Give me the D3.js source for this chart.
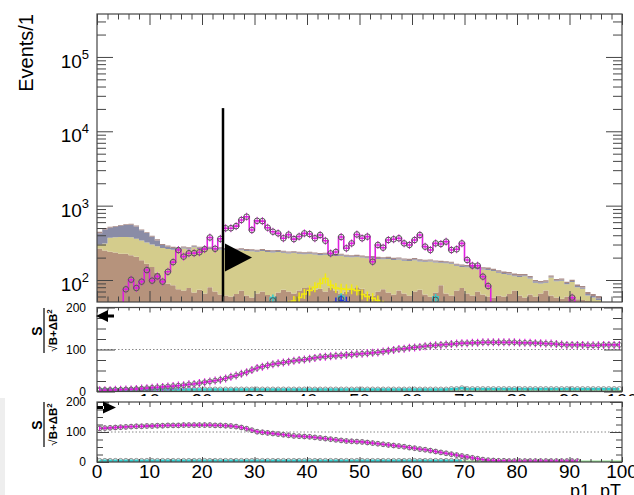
<!DOCTYPE html>
<html><head><meta charset="utf-8">
<script src="https://cdn.jsdelivr.net/npm/d3@7"></script>
<style>body{margin:0;background:#fff}svg{display:block}text{font-family:"Liberation Sans",Arial,Helvetica,sans-serif;fill:#000}</style>
</head><body><svg id="c" width="634" height="495"></svg>
<script>
// ---------------- data ----------------
const xTicksMajor = [0,10,20,30,40,50,60,70,80,90,100];
const yMainTickLabels = [{v:1e2,e:"2"},{v:1e3,e:"3"},{v:1e4,e:"4"},{v:1e5,e:"5"}];
const ratioTickLabels = [0,100,200];
// stacked backgrounds, bins 0..95 (bin width 1)
const bkgBrown = [265,250,240,235,225,225,215,205,185,165,150,125,100,90,85,75,72,78,68,74,66,80,70,64,62,60,65,72,62,58,66,70,63,60,68,74,70,66,72,78,80,74,76,70,78,72,65,70,74,80,76,66,62,70,75,68,64,72,66,62,70,74,64,60,68,85,66,62,72,78,66,62,70,64,60,58,62,60,65,72,62,58,64,60,66,72,62,58,56,60,58,55,54,52,50,48];
const bkgKhaki = [35,60,130,140,155,155,160,155,155,155,150,160,170,172,170,175,193,180,207,188,192,182,185,194,190,190,183,180,184,186,174,175,175,175,170,158,158,164,154,144,145,146,140,148,136,138,147,136,129,125,124,130,136,122,115,124,122,116,116,118,114,104,112,118,104,85,102,103,83,72,82,83,70,74,76,74,63,60,53,40,48,54,41,32,24,20,46,38,42,28,36,25,22,10,8,6];
const bkgSlate = [126,167,136,144,155,168,180,166,126,108,83,55,26,19,15,10,9,9,9,9,9,9,9,9,9,8,8,8,8,8,8,8,8,8,8,8,7,7,7,7,7,7,7,7,7,7,7,6,6,6,6,6,6,6,6,6,6,6,6,6,6,6,5,5,5,5,5,5,5,5,5,5,5,5,5,4,4,4,4,4,4,4,4,4,3,3,3,3,3,3,3,3,3,3,3,3];
const bkgRose = [20,22,15,15,15,15,15,15,12,12,12,12,10,10,10,10,8,8,8,8,8,8,8,8,8,8,8,8,8,8,8,8,8,8,8,8,7,7,7,7,7,7,7,7,7,7,7,7,7,7,7,7,7,7,7,7,7,7,7,7,7,6,6,6,6,6,6,6,6,6,6,6,6,6,6,6,6,6,6,6,6,4,4,4,4,4,4,4,4,4,4,4,4,4,4,4];
// signal (magenta), bins 0..99
const sigMain = [0,0,0,0,0,75,101,78,95,136,98,112,95,129,174,253,206,229,230,236,260,373,263,358,497,497,530,642,710,470,625,620,505,446,424,364,408,355,384,424,415,364,403,337,228,238,379,267,311,410,364,383,176,296,272,345,353,364,311,296,345,403,281,253,311,305,328,253,259,311,186,156,156,111,83,0,0,0,0,0,0,0,0,0,0,0,0,0,0,0,58,0,0,0,0,0,0,0,0,0];
// second signal (yellow), bins 0..99
const sigYellow = [0,0,0,0,0,0,0,0,0,0,0,0,0,0,0,0,0,0,0,0,0,0,0,0,0,0,0,0,0,0,0,0,0,0,0,0,45,52,58,65,72,80,90,105,85,78,76,75,75,72,64,60,57,53,45,0,0,0,0,0,0,0,0,0,0,0,0,0,0,0,0,0,0,0,0,0,0,0,0,0,0,0,0,0,0,0,0,0,0,0,0,0,0,0,0,0,0,0,0,0];
const cyanBins = [33,46,64], cyanVals = [53,55,54];
const blueBins = [45,46,47], blueVals = [50,53,51];
const cutValue = 24, cutTop = 2.05e4;
// significance, pad 1 (cut x > value), bin centres 0.5..99.5
const sig1 = [3,3,3,4,4,5,5,6,7,8,9,10,11,12,13,14,15,17,18,20,22,24,26,28,31,35,38,42,46,51,56,59,62,65,67,69,71,73,75,76,78,80,82,83,84,85,86,87,88,89,90,91,92,93,95,97,99,101,102,104,105,106,108,109,110,111,112,113,114,115,115,116,116,117,117,117,117,117,117,117,116,116,116,115,115,114,114,113,112,111,111,111,111,110,110,110,111,111,111,111];
const cyan1 = [4,4,4,4,4,4,5,5,5,5,5,5,5,5,5,5,5,5,5,5,5,5,5,5,5,5,5,5,5,5,5,5,5,5,5,5,5,5,5,5,5,5,5,5,5,5,5,5,5,5,5,5,5,5,5,5,5,5,5,5,5,5,5,5,5,5,5,6,6,8,6,6,6,6,6,6,6,6,6,6,6,6,6,6,6,6,6,6,6,6,6,6,6,6,6,6,6,6,6,6];
// significance, pad 2 (cut x < value)
const sig2 = [112,113,114,115,116,117,118,119,119,120,120,121,121,122,122,122,123,123,123,123,123,123,122,122,121,120,118,115,111,106,101,99,97,95,93,91,89,87,86,85,84,82,80,78,76,74,72,70,69,68,67,65,63,61,59,57,55,53,51,48,46,43,41,38,35,32,29,26,23,20,17,14,11,8,6,5,4,4,3,3,3,3,3,3,3,3,3,3,3,3,3,3];
const cyan2 = [4,4,4,4,4,4,4,4,4,4,4,4,4,4,4,4,4,4,4,4,4,4,4,4,4,4,4,4,4,4,4,4,4,4,4,4,4,4,4,4,4,4,4,4,4,4,4,4,4,4,4,4,4,4,4,4,4,4,4,4,4,4,4,4,4,4,4,4,4,4];

// ---------------- styles ----------------
const C = {brown:"#b6937c", khaki:"#d4cc8c", slate:"#8a8ca6", rose:"#a88a86",
  mag:"#e020e0", cyan:"#30d0d0", green:"#90e090", axis:"#444"};

const svg = d3.select("#c");
const X0 = 97, X1 = 622;
const x = d3.scaleLinear().domain([0,100]).range([X0,X1]);
const yM = d3.scaleLog().domain([50.6,3.78e5]).range([302,14]);
const y1 = d3.scaleLinear().domain([0,200]).range([391.5,307.5]);
const y2 = d3.scaleLinear().domain([0,200]).range([462,402]);

const defs = svg.append("defs");
function clip(id, y0, y1_) {
  defs.append("clipPath").attr("id", id).append("rect")
    .attr("x", X0).attr("y", y0).attr("width", X1 - X0).attr("height", y1_ - y0);
}
clip("cm", 14, 302); clip("c1", 307.5, 391.5); clip("c2", 402, 462);

// ---------------- main pad ----------------
const gm = svg.append("g").attr("clip-path", "url(#cm)");
const rows = bkgBrown.map((b, k) => ({k, brown: b, khaki: bkgKhaki[k], slate: bkgSlate[k], rose: bkgRose[k]}));
const stacked = d3.stack().keys(["brown","khaki","slate","rose"])(rows);
const area = d3.area().x(d => x(d.x)).y0(d => yM(Math.max(d.y0, 1))).y1(d => yM(Math.max(d.y1, 1)));
stacked.forEach(s => {
  const pts = s.flatMap(d => [{x: d.data.k, y0: d[0], y1: d[1]}, {x: d.data.k + 1, y0: d[0], y1: d[1]}]);
  gm.append("path").attr("d", area(pts)).attr("fill", C[s.key]).attr("stroke", "none");
});

function stepLine(vals) {
  const pts = vals.flatMap((v, k) => [[k, Math.max(v, 1)], [k + 1, Math.max(v, 1)]]);
  return d3.line().x(d => x(d[0])).y(d => yM(d[1]))(pts);
}
// yellow signal
gm.append("path").attr("d", stepLine(sigYellow)).attr("fill", "none").attr("stroke", "#f2ea10").attr("stroke-width", 1.5);
sigYellow.forEach((v, k) => { if (v > 0) {
  gm.append("line").attr("x1", x(k + .5)).attr("x2", x(k + .5)).attr("y1", yM(v) - 5).attr("y2", yM(v) + 5)
    .attr("stroke", "#f2ea10").attr("stroke-width", 1.5);
}});
// cyan & blue markers
cyanBins.forEach((k, i) => {
  const cx = x(k + .5), cy = yM(cyanVals[i]);
  gm.append("line").attr("x1", cx).attr("x2", cx).attr("y1", cy - 6).attr("y2", cy + 6).attr("stroke", C.cyan).attr("stroke-width", 1.5);
  gm.append("rect").attr("x", x(k)).attr("y", cy - 3).attr("width", x(k + 1) - x(k)).attr("height", 20).attr("fill", "none").attr("stroke", C.cyan).attr("stroke-width", 1.5);
  gm.append("circle").attr("cx", cx).attr("cy", cy).attr("r", 2.8).attr("fill", "none").attr("stroke", "#555");
});
blueBins.forEach((k, i) => {
  const cx = x(k + .5), cy = yM(blueVals[i]);
  gm.append("line").attr("x1", x(k)).attr("x2", x(k + 1)).attr("y1", cy).attr("y2", cy).attr("stroke", "#2030e0").attr("stroke-width", 1.5);
  gm.append("line").attr("x1", cx).attr("x2", cx).attr("y1", cy - 5).attr("y2", cy + 5).attr("stroke", "#2030e0").attr("stroke-width", 1.5);
});
// magenta signal
gm.append("path").attr("d", stepLine(sigMain)).attr("fill", "none").attr("stroke", C.mag).attr("stroke-width", 1.6);
sigMain.forEach((v, k) => { if (v > 0) {
  const cx = x(k + .5), cy = yM(v);
  gm.append("line").attr("x1", cx).attr("x2", cx).attr("y1", cy - 4).attr("y2", cy + 4).attr("stroke", C.mag).attr("stroke-width", 1);
  gm.append("circle").attr("cx", cx).attr("cy", cy).attr("r", 2.8).attr("fill", "none").attr("stroke", "#555").attr("stroke-width", 1);
}});
// cut line + arrow
svg.append("line").attr("x1", x(cutValue)).attr("x2", x(cutValue)).attr("y1", yM(cutTop)).attr("y2", 302)
  .attr("stroke", "#000").attr("stroke-width", 2.5);
{
  const ax = x(cutValue) + 2, ay = yM(200);
  svg.append("path").attr("d", `M${ax},${ay - 14}L${ax + 27},${ay}L${ax},${ay + 14}Z`).attr("fill", "#000");
}

// ---------------- axes helpers ----------------
function styleAxis(g) { g.select(".domain").remove(); g.selectAll("line").attr("stroke", C.axis).attr("stroke-width", 1); g.selectAll("text").remove(); }
function xTicks(y, axisFn, maj, min) {
  svg.append("g").attr("transform", `translate(0,${y})`).call(axisFn(x).tickValues(xTicksMajor).tickSize(maj)).call(styleAxis);
  svg.append("g").attr("transform", `translate(0,${y})`).call(axisFn(x).tickValues(d3.range(0, 101, 2).filter(v => v % 10)).tickSize(min)).call(styleAxis);
}
function yTicks(scale, maj, majLen, min, minLen) {
  svg.append("g").attr("transform", `translate(${X0},0)`).call(d3.axisRight(scale).tickValues(maj).tickSize(majLen)).call(styleAxis);
  svg.append("g").attr("transform", `translate(${X0},0)`).call(d3.axisRight(scale).tickValues(min).tickSize(minLen)).call(styleAxis);
  svg.append("g").attr("transform", `translate(${X1},0)`).call(d3.axisLeft(scale).tickValues(maj).tickSize(majLen)).call(styleAxis);
  svg.append("g").attr("transform", `translate(${X1},0)`).call(d3.axisLeft(scale).tickValues(min).tickSize(minLen)).call(styleAxis);
}
function frame(y0, y1_) {
  svg.append("rect").attr("x", X0).attr("y", y0).attr("width", X1 - X0).attr("height", y1_ - y0)
    .attr("fill", "none").attr("stroke", C.axis).attr("stroke-width", 1.2);
}

// main axes
frame(14, 302);
xTicks(14, d3.axisBottom, 11, 5.5);
xTicks(302, d3.axisTop, 11, 5.5);
const logMinor = [];
[10, 100, 1000, 10000, 100000].forEach(d => [2,3,4,5,6,7,8,9].forEach(m => { const v = d * m; if (v > 50.6 && v < 3.78e5) logMinor.push(v); }));
yTicks(yM, yMainTickLabels.map(d => d.v), 16, logMinor, 9);
yMainTickLabels.forEach(d => {
  const t = svg.append("text").attr("x", 89).attr("y", yM(d.v) + 11).attr("text-anchor", "end").attr("font-size", 19);
  t.append("tspan").text("10");
  t.append("tspan").attr("dy", -9).attr("font-size", 13).text(d.e);
});
svg.append("text").attr("transform", "translate(33,14) rotate(-90)").attr("text-anchor", "end")
  .attr("font-size", 20).text("Events/1");

// ---------------- ratio pads ----------------
function ratioPad(ys, top, bot, clipId, sig, cyan, errLen, majLen) {
  const g = svg.append("g").attr("clip-path", `url(#${clipId})`);
  g.append("line").attr("x1", X0).attr("x2", X1).attr("y1", ys(100)).attr("y2", ys(100))
    .attr("stroke", "#888").attr("stroke-dasharray", "1.5,2").attr("stroke-width", 1);
  g.append("line").attr("x1", X0).attr("x2", X1).attr("y1", ys(0) - 0.5).attr("y2", ys(0) - 0.5)
    .attr("stroke", C.green).attr("stroke-width", 2);
  const ln = d3.line().x((d, i) => x(i + .5)).y(d => ys(d));
  g.append("path").attr("d", ln(cyan)).attr("fill", "none").attr("stroke", C.cyan).attr("stroke-width", 2.5);
  cyan.forEach((v, i) => g.append("circle").attr("cx", x(i + .5)).attr("cy", ys(v)).attr("r", 2.4)
    .attr("fill", "none").attr("stroke", "#888").attr("stroke-width", 0.9));
  g.append("path").attr("d", ln(sig)).attr("fill", "none").attr("stroke", C.mag).attr("stroke-width", 1.8);
  sig.forEach((v, i) => {
    g.append("line").attr("x1", x(i + .5)).attr("x2", x(i + .5)).attr("y1", ys(v) - errLen).attr("y2", ys(v) + errLen)
      .attr("stroke", C.mag).attr("stroke-width", 1.2);
    g.append("circle").attr("cx", x(i + .5)).attr("cy", ys(v)).attr("r", 2.4)
      .attr("fill", "none").attr("stroke", "#666").attr("stroke-width", 0.9);
  });
  frame(top, bot);
  xTicks(top, d3.axisBottom, 5, 3);
  xTicks(bot, d3.axisTop, 5, 3);
  yTicks(ys, ratioTickLabels, majLen, [25,50,75,125,150,175], majLen / 2);
  ratioTickLabels.forEach(v => svg.append("text").attr("x", 86).attr("y", ys(v) + 4)
    .attr("text-anchor", "end").attr("font-size", 12).text(v));
}
function sigTitle(cx, cy) {
  const g = svg.append("g").attr("transform", `translate(${cx},${cy}) rotate(-90)`);
  g.append("text").attr("x", 0).attr("y", -3).attr("text-anchor", "middle").attr("font-size", 14).attr("font-weight", "bold").text("S");
  g.append("line").attr("x1", -22).attr("x2", 23).attr("y1", -1).attr("y2", -1).attr("stroke", "#000").attr("stroke-width", 1.2);
  const t = g.append("text").attr("x", 0.5).attr("y", 12).attr("text-anchor", "middle").attr("font-size", 11.5).attr("font-weight", "bold");
  t.append("tspan").attr("font-weight", "normal").text("\u221A");
  t.append("tspan").text("B+\u0394B");
  t.append("tspan").attr("dy", -5).attr("font-size", 8).text("2");
}

ratioPad(y1, 307.5, 391.5, "c1", sig1, cyan1, 4, 18);
// pad 1 x labels (mostly hidden by pad 2)
xTicksMajor.filter(v => v > 0).forEach(v => svg.append("text").attr("x", x(v)).attr("y", 407).attr("text-anchor", "middle").attr("font-size", 19).text(v));
svg.append("rect").attr("x", 0).attr("y", 396).attr("width", 634).attr("height", 99).attr("fill", "#fff");
svg.append("rect").attr("x", 0).attr("y", 398).attr("width", 5).attr("height", 97).attr("fill", "#eeeeee");
sigTitle(45, 331);
// pad 1 arrow (left)
svg.append("path").attr("d", `M${X0 - 1},316 L${X0 + 11},310 L${X0 + 11},322 Z M${X0 + 10},314.5 L${X0 + 17},314.5 L${X0 + 17},317.5 L${X0 + 10},317.5 Z`).attr("fill", "#000");

ratioPad(y2, 402, 462, "c2", sig2, cyan2, 2.5, 12);
sigTitle(45, 425);
svg.append("path").attr("d", `M${X0 + 19},407.5 L${X0 + 6},401.5 L${X0 + 6},413.5 Z M${X0},406 L${X0 + 7},406 L${X0 + 7},409 L${X0},409 Z`).attr("fill", "#000");
xTicksMajor.forEach(v => svg.append("text").attr("x", x(v)).attr("y", 478).attr("text-anchor", "middle").attr("font-size", 19).text(v));
svg.append("text").attr("x", 621).attr("y", 497).attr("text-anchor", "end").attr("font-size", 18).text("p1_pT");
</script></body></html>
